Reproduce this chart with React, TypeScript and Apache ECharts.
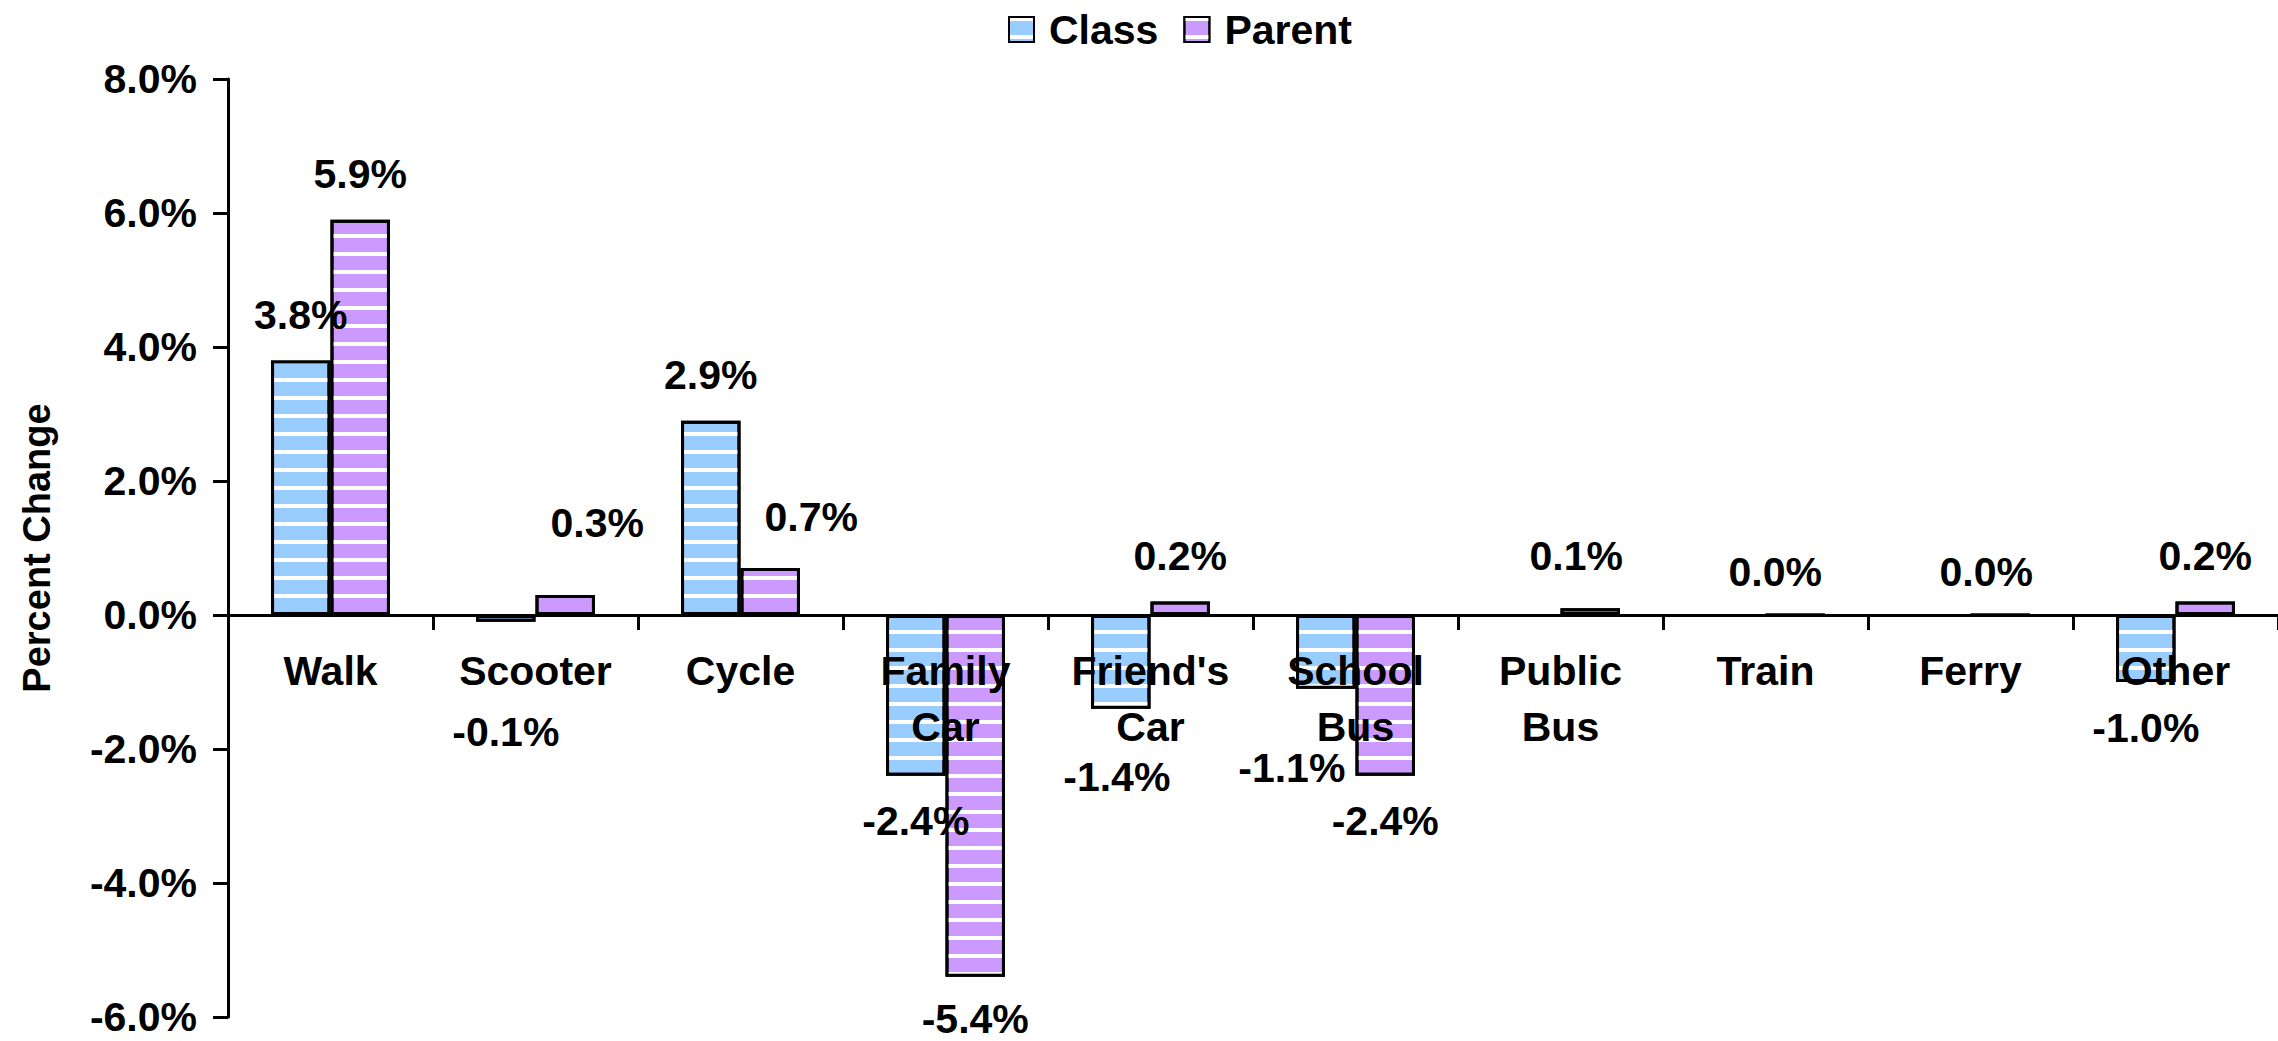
import React, { useEffect, useRef } from "react";
import * as echarts from "echarts";

const categories = [
  "Walk",
  "Scooter",
  "Cycle",
  "Family\nCar",
  "Friend's\nCar",
  "School\nBus",
  "Public\nBus",
  "Train",
  "Ferry",
  "Other",
];
const classValues: (number | null)[] = [3.8, -0.1, 2.9, -2.4, -1.4, -1.1, null, null, null, -1.0];
const parentValues: (number | null)[] = [5.9, 0.3, 0.7, -5.4, 0.2, -2.4, 0.1, 0.0, 0.0, 0.2];
const yMin = -6;
const yMax = 8;
const yStep = 2;

// label nudges (layout only), keyed by category index
const classLabelNudge: Record<number, [number, number]> = { 1: [0, 65], 4: [-4, 23], 5: [-34, 34] };
const parentLabelNudge: Record<number, [number, number]> = {
  1: [32, -26],
  2: [41, -6],
  3: [0, -3],
  6: [-14, -7],
  7: [-20, 4],
  8: [-14, 4],
};

const FONT = "'Liberation Sans', Arial, sans-serif";
const fmt = (v: number) => v.toFixed(1) + "%";

function buildData(values: (number | null)[], nudge: Record<number, [number, number]>) {
  return values.map((v, i) => {
    if (v === null) return { value: null };
    const item: any = { value: v, label: { position: v < 0 ? "bottom" : "top" } };
    if (nudge[i]) item.label.offset = nudge[i];
    return item;
  });
}

const stripe = (bg: string) => ({
  color: bg,
  borderColor: "#000",
  borderWidth: 3,
  decal: {
    symbol: "rect",
    symbolSize: 1,
    symbolKeepAspect: false,
    color: "#ffffff",
    backgroundColor: bg,
    dashArrayX: [20, 0],
    dashArrayY: [4, 14],
    rotation: 0,
  },
});

export default function App() {
  const ref = useRef<HTMLDivElement>(null);
  useEffect(() => {
    if (!ref.current) return;
    const chart = echarts.init(ref.current, undefined, { renderer: "svg" });
    const labelStyle = {
      show: true,
      color: "#000",
      fontWeight: "bold",
      fontSize: 41,
      fontFamily: FONT,
      distance: 25,
      formatter: (p: any) => fmt(p.value),
    };
    chart.setOption({
      animation: false,
      backgroundColor: "#fff",
      textStyle: { fontFamily: FONT },
      legend: {
        data: ["Class", "Parent"],
        left: 1003,
        top: 4,
        icon: "rect",
        itemWidth: 25,
        itemHeight: 25,
        itemGap: 25,
        textStyle: {
          color: "#000",
          fontSize: 41,
          fontWeight: "bold",
          fontFamily: FONT,
          padding: [0, 0, 0, 10],
        },
      },
      grid: {
        left: 228,
        right: 0,
        top: 79,
        bottom: 24,
        containLabel: false,
        outerBoundsMode: "none",
      },
      xAxis: {
        type: "category",
        data: categories,
        z: 5,
        axisLine: { show: true, onZero: true, lineStyle: { color: "#000", width: 3 } },
        axisTick: { show: true, length: 15, lineStyle: { color: "#000", width: 3 } },
        axisLabel: { show: false },
        splitLine: { show: false },
      },
      yAxis: {
        type: "value",
        min: yMin,
        max: yMax,
        interval: yStep,
        name: "Percent Change",
        nameLocation: "middle",
        nameGap: 172,
        nameRotate: 90,
        nameTextStyle: { color: "#000", fontSize: 38, fontWeight: "bold", fontFamily: FONT },
        axisLine: { show: true, lineStyle: { color: "#000", width: 3 } },
        axisTick: { show: true, length: 15, lineStyle: { color: "#000", width: 3 } },
        axisLabel: {
          color: "#000",
          fontSize: 41,
          fontWeight: "bold",
          fontFamily: FONT,
          margin: 31,
          formatter: (v: number) => fmt(v),
        },
        splitLine: { show: false },
      },
      series: [
        {
          name: "Class",
          type: "bar",
          data: buildData(classValues, classLabelNudge),
          barGap: "0%",
          barCategoryGap: "42%",
          itemStyle: stripe("#99CCFF"),
          label: labelStyle,
        },
        {
          name: "Parent",
          type: "bar",
          data: buildData(parentValues, parentLabelNudge),
          barGap: "0%",
          barCategoryGap: "42%",
          itemStyle: stripe("#CC99FF"),
          label: labelStyle,
        },
        {
          // category labels sitting under the zero line, drawn on top of the bars
          type: "scatter",
          silent: true,
          z: 10,
          symbol: "circle",
          symbolSize: 1,
          itemStyle: { color: "transparent" },
          data: categories.map((_, i) => [i, 0]),
          label: {
            show: true,
            position: "bottom",
            distance: 27,
            color: "#000",
            opacity: 1,
            fontSize: 41,
            fontWeight: "bold",
            fontFamily: FONT,
            lineHeight: 56,
            align: "center",
            formatter: (p: any) => categories[p.dataIndex],
          },
        },
      ],
    });
    return () => chart.dispose();
  }, []);
  return (
    <div
      ref={ref}
      style={{ position: "fixed", left: 0, top: 0, width: 2278, height: 1041, background: "#fff" }}
    />
  );
}
